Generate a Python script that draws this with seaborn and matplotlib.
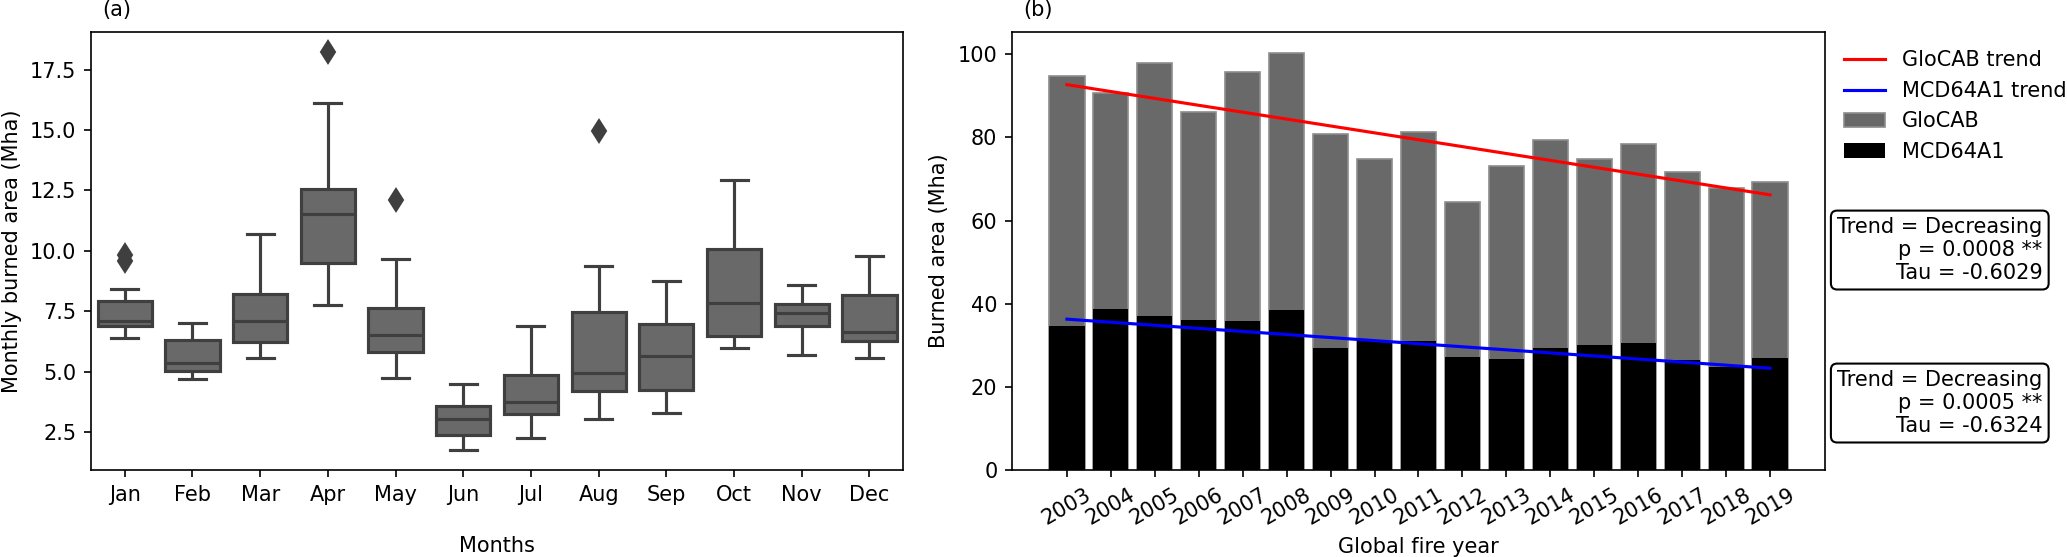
import numpy as np
import pandas as pd
import matplotlib
matplotlib.use('Agg')
import matplotlib.pyplot as plt
import seaborn as sns

# monthly burned area per month, 2003-2019 (Mha)
months = ['Jan', 'Feb', 'Mar', 'Apr', 'May', 'Jun', 'Jul', 'Aug', 'Sep', 'Oct', 'Nov', 'Dec']
jan = [6.40, 6.62, 6.75, 6.83, 6.88, 6.95, 7.00, 7.05, 7.09, 7.30, 7.55, 7.80, 7.94, 8.10, 8.43, 9.60, 9.85]
feb = [4.71, 4.85, 4.92, 4.98, 5.03, 5.12, 5.22, 5.30, 5.37, 5.55, 5.80, 6.10, 6.32, 6.50, 6.70, 6.88, 7.01]
mar = [5.59, 5.80, 5.95, 6.10, 6.22, 6.45, 6.70, 6.90, 7.09, 7.35, 7.60, 7.95, 8.21, 8.60, 9.10, 9.80, 10.69]
apr = [7.76, 8.30, 8.80, 9.20, 9.49, 10.00, 10.60, 11.10, 11.54, 11.80, 12.10, 12.35, 12.57, 13.20, 14.10, 16.10, 18.24]
may = [4.74, 5.10, 5.40, 5.65, 5.81, 6.00, 6.20, 6.40, 6.54, 6.80, 7.10, 7.40, 7.65, 8.20, 8.90, 9.66, 12.10]
jun = [1.76, 1.95, 2.15, 2.30, 2.40, 2.60, 2.80, 2.95, 3.06, 3.20, 3.35, 3.50, 3.60, 3.80, 4.00, 4.25, 4.49]
jul = [2.28, 2.60, 2.90, 3.10, 3.24, 3.35, 3.50, 3.65, 3.75, 4.00, 4.30, 4.60, 4.85, 5.30, 5.80, 6.30, 6.90]
aug = [3.04, 3.40, 3.75, 4.00, 4.19, 4.40, 4.60, 4.80, 4.97, 5.60, 6.30, 6.90, 7.46, 8.00, 8.60, 9.38, 14.97]
sep = [3.28, 3.60, 3.90, 4.10, 4.26, 4.60, 4.95, 5.30, 5.66, 6.00, 6.35, 6.70, 6.99, 7.40, 7.90, 8.30, 8.75]
oct_ = [6.00, 6.15, 6.25, 6.38, 6.47, 6.80, 7.10, 7.50, 7.85, 8.40, 9.00, 9.60, 10.07, 10.80, 11.60, 12.30, 12.94]
nov = [5.69, 6.10, 6.50, 6.75, 6.91, 7.05, 7.20, 7.32, 7.43, 7.52, 7.62, 7.72, 7.82, 8.00, 8.20, 8.40, 8.60]
dec = [5.56, 5.80, 6.00, 6.15, 6.29, 6.38, 6.48, 6.57, 6.66, 6.95, 7.30, 7.75, 8.19, 8.60, 9.00, 9.40, 9.81]

# annual burned area (Mha)
years = list(range(2003, 2020))
glocab = [94.8, 90.8, 97.9, 86.1, 95.8, 100.4, 80.8, 74.9, 81.4, 64.5, 73.1, 79.5, 74.9, 78.4, 71.7, 67.9, 69.3]
mcd64a1 = [34.6, 38.8, 37.0, 36.2, 35.9, 38.6, 29.3, 31.1, 31.0, 27.1, 26.7, 29.3, 30.0, 30.5, 26.5, 24.7, 27.0]

# trend lines (start/end years)
trend_years = [2003, 2019]
glocab_trend = [92.7, 66.2]
mcd_trend = [36.3, 24.5]

glocab_txt = 'Trend = Decreasing\np = 0.0008 **\nTau = -0.6029'
mcd_txt = 'Trend = Decreasing\np = 0.0005 **\nTau = -0.6324'

monthly = [jan, feb, mar, apr, may, jun, jul, aug, sep, oct_, nov, dec]
df_month = pd.DataFrame({
    'month': np.repeat(months, [len(v) for v in monthly]),
    'area': np.concatenate(monthly),
})

fig = plt.figure(figsize=(2067 / 150, 557 / 150), dpi=150)
ax1 = fig.add_axes([0.044, 0.156, 0.393, 0.787])
ax2 = fig.add_axes([0.4896, 0.156, 0.3933, 0.787])

sns.boxplot(data=df_month, x='month', y='area', order=months, color='dimgray',
            saturation=1, linewidth=1.5, width=0.8,
            flierprops=dict(marker='d', markerfacecolor='#3f3f3f',
                            markeredgecolor='#3f3f3f', markersize=7.5), ax=ax1)
ax1.set_xlabel('Months', labelpad=15)
ax1.set_ylabel('Monthly burned area (Mha)')
ax1.text(0.032, 1.05, '(a)', transform=ax1.transAxes, ha='center', va='center')

sns.barplot(x=years, y=glocab, native_scale=True, color='dimgray', saturation=1,
            edgecolor='#8c8c8c', linewidth=0.8, width=0.8, label='GloCAB', ax=ax2)
sns.barplot(x=years, y=mcd64a1, native_scale=True, color='black', saturation=1,
            width=0.8, label='MCD64A1', ax=ax2)
sns.lineplot(x=trend_years, y=glocab_trend, color='red', linewidth=1.5,
             label='GloCAB trend', ax=ax2)
sns.lineplot(x=trend_years, y=mcd_trend, color='blue', linewidth=1.5,
             label='MCD64A1 trend', ax=ax2)
ax2.set_xlim(2001.75, 2020.25)
ax2.set_xticks(years)
ax2.set_xticklabels([str(y) for y in years], rotation=30)
ax2.set_xlabel('Global fire year')
ax2.set_ylabel('Burned area (Mha)')
ax2.text(0.032, 1.05, '(b)', transform=ax2.transAxes, ha='center', va='center')

handles, labels = ax2.get_legend_handles_labels()
want = ['GloCAB trend', 'MCD64A1 trend', 'GloCAB', 'MCD64A1']
hmap = dict(zip(labels, handles))
ax2.legend([hmap[k] for k in want], want, loc='upper left',
           bbox_to_anchor=(1.0, 1.0), frameon=False)

box = dict(boxstyle='round', facecolor='white', edgecolor='black')
ax2.text(1.015, 0.502, glocab_txt, transform=ax2.transAxes, ha='left', va='center',
         multialignment='right', bbox=box)
ax2.text(1.015, 0.153, mcd_txt, transform=ax2.transAxes, ha='left', va='center',
         multialignment='right', bbox=box)

plt.savefig('out.png', dpi=150)
